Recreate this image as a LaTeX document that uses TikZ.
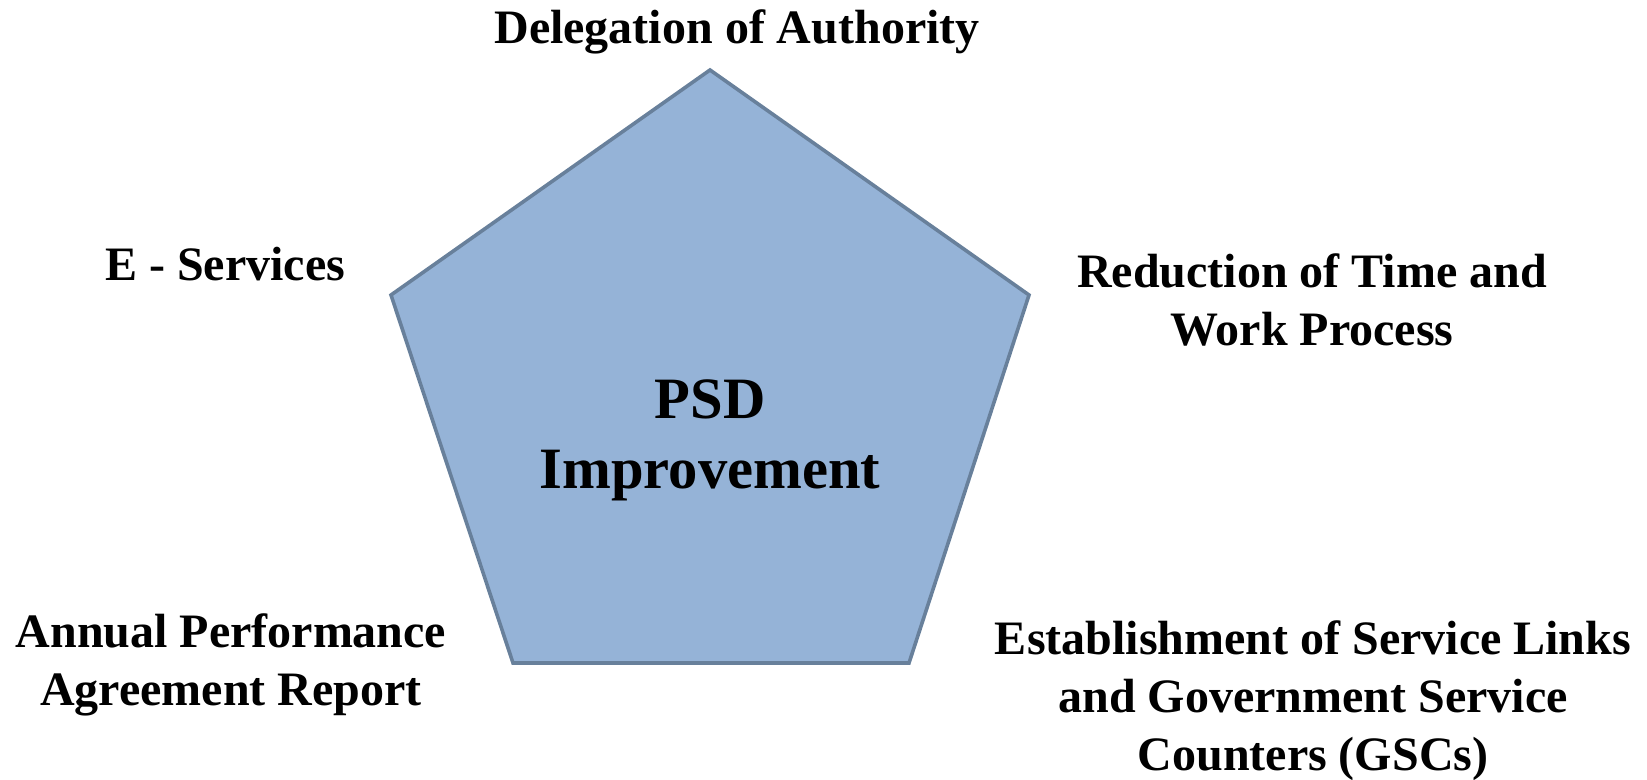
\documentclass[tikz,border=0pt]{standalone}
\usepackage{fontspec}
\setmainfont{Liberation Serif}
\usetikzlibrary{positioning}
\definecolor{pentfill}{RGB}{149,179,215}
\definecolor{pentline}{RGB}{104,128,155}
\tikzset{
  pent/.style={draw=pentline, fill=pentfill, line width=1.8pt, line join=miter},
  core/.style={align=center, font=\fontsize{29.3pt}{35pt}\selectfont\bfseries},
  lbl/.style={align=center, font=\fontsize{24pt}{29pt}\selectfont\bfseries},
}

\begin{document}
\begin{tikzpicture}[x=0.5pt, y=-0.5pt]
\useasboundingbox (0,0) rectangle (1647,780);
% pentagon corners
\coordinate (top) at (710,70);
\coordinate (rt) at (1029,295);
\coordinate (br) at (909,663);
\coordinate (bl) at (513,663);
\coordinate (lt) at (391,295);
\draw[pent] (top) -- (rt) -- (br) -- (bl) -- (lt) -- cycle;
\node[core] (psd) at (710,440) {PSD\\Improvement};
% labels round the pentagon
\node[lbl] (deleg) at (737,32) {Delegation of Authority};
\node[lbl] (eserv) at (225,264) {E - Services};
\node[lbl] (reduc) at (1312,300) {Reduction of Time and\\Work Process};
\node[lbl] (annual) at (231,665) {Annual Performance\\Agreement Report};
\node[lbl] (estab) at (1313,701) {Establishment of Service Links\\and Government Service\\Counters (GSCs)};
\end{tikzpicture}
\end{document}
